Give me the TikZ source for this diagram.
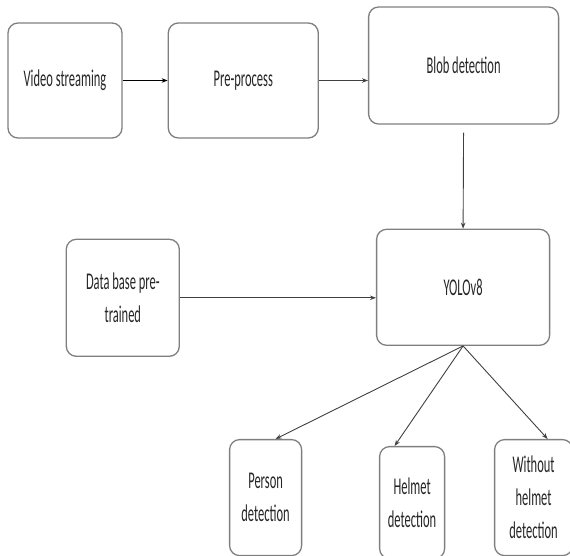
\documentclass[tikz,border=0pt]{standalone}
\usepackage{fontspec}
\setmainfont{Carlito}[FakeStretch=0.52]
\usepackage{tikz}
\usetikzlibrary{arrows.meta, positioning}
\definecolor{boxgrey}{HTML}{7F7F7F}
\definecolor{inkgrey}{HTML}{262626}
\definecolor{linegrey}{HTML}{404040}

\begin{document}
\begin{tikzpicture}[x=1pt, y=-1pt,
    every node/.style={
        draw=boxgrey,
        line width=1.3pt,
        rounded corners=10pt,
        inner sep=0pt,
        minimum height=115pt,
        align=center,
        text=inkgrey,
        font=\fontsize{24}{33}\selectfont},
    >={Stealth[length=6pt, width=4.5pt]}]
    \useasboundingbox (0,0) rectangle (570,556);
    \node[minimum width=114pt] (video) at (65,80.5) {Video streaming};
    \node[minimum width=150pt, right=45pt of video] (preproc) {Pre-process};
    \node[minimum width=190pt, minimum height=117pt, right=49pt of preproc, yshift=15pt] (blob) {Blob detection};
    \node[minimum width=173pt, minimum height=116pt, below=104pt of blob, xshift=-0.5pt] (yolo) {YOLOv8};
    \node[minimum width=113pt, minimum height=117pt, left=196pt of yolo, yshift=-10.5pt] (database) {Data base pre-\\trained};
    \node[minimum width=72pt, minimum height=116pt, below=93pt of yolo, xshift=-197.5pt] (person) {Person\\detection};
    \node[minimum width=65pt, minimum height=112pt, below=100pt of yolo, xshift=-51pt] (helmet) {Helmet\\detection};
    \node[minimum width=78pt, minimum height=116pt, below=93pt of yolo, xshift=70.5pt] (nohelmet) {Without\\helmet\\detection};

    \begin{scope}[draw=linegrey, line width=0.9pt]
        \draw[->, draw=black, line width=1.6pt] (video) -- (preproc);
        \draw[->] (preproc.east) -- (preproc.east -| blob.west);
        \draw[->, shorten <=8pt] (blob.south) -- (yolo.north);
        \draw[->] (database.east) -- (database.east -| yolo.west);
        \draw[->] (yolo.south) -- ([xshift=10pt]person.north);
        \draw[->] (yolo.south) -- ([xshift=-17.5pt]helmet.north);
        \draw[->] (yolo.south) -- ([xshift=14pt]nohelmet.north);
    \end{scope}
\end{tikzpicture}
\end{document}
